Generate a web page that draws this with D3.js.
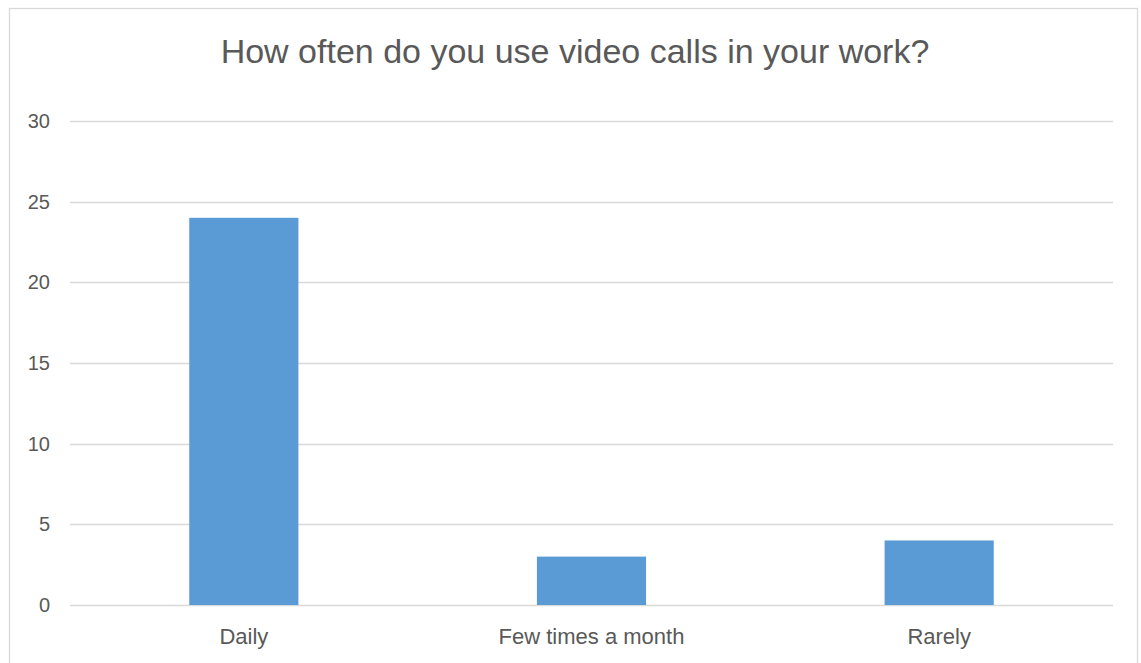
<!DOCTYPE html>
<html>
<head>
<meta charset="utf-8">
<script src="https://cdn.jsdelivr.net/npm/d3@7"></script>
<style>
  html, body { margin: 0; padding: 0; background: #fff; }
  svg { display: block; }
  text { font-family: "Liberation Sans", "DejaVu Sans", sans-serif; fill: #595959; }
</style>
</head>
<body>
<script>
// Survey answers: how often video calls are used at work
const categories = ["Daily", "Few times a month", "Rarely"];
const counts = [24, 3, 4];
const yTicks = [0, 5, 10, 15, 20, 25, 30];
const title = "How often do you use video calls in your work?";

const W = 1141, H = 663;
const plot = { left: 70, right: 1113, top: 121, bottom: 605 };

const svg = d3.select("body").append("svg")
  .attr("width", W).attr("height", H);

// chart area frame
svg.append("rect")
  .attr("x", 9.5).attr("y", 8.5)
  .attr("width", 1128).attr("height", 670)
  .attr("fill", "#fff").attr("stroke", "#d9d9d9").attr("stroke-width", 1.3);

const x = d3.scaleBand()
  .domain(categories)
  .range([plot.left, plot.right])
  .paddingInner(0.686)
  .paddingOuter(0.343);

const y = d3.scaleLinear()
  .domain([0, 30])
  .range([plot.bottom, plot.top]);

// horizontal gridlines
svg.append("g").selectAll("line")
  .data(yTicks)
  .join("line")
  .attr("x1", plot.left).attr("x2", plot.right)
  .attr("y1", d => Math.round(y(d)) + 0.5)
  .attr("y2", d => Math.round(y(d)) + 0.5)
  .attr("stroke", "#d9d9d9").attr("stroke-width", 1.3);

// y axis labels
const yAxis = d3.axisLeft(y).tickValues(yTicks).tickSize(0).tickPadding(0);
const gy = svg.append("g")
  .attr("transform", `translate(${plot.left - 20},0)`)
  .call(yAxis);
gy.select(".domain").remove();
gy.selectAll("text")
  .attr("font-size", 20)
  .attr("font-family", "Liberation Sans, sans-serif")
  .attr("fill", "#595959");

// bars
svg.append("g").selectAll("rect")
  .data(categories.map((c, i) => ({ c, v: counts[i] })))
  .join("rect")
  .attr("x", d => x(d.c))
  .attr("width", x.bandwidth())
  .attr("y", d => y(d.v))
  .attr("height", d => y(0) - y(d.v))
  .attr("fill", "#5b9bd5");

// category labels
const xAxis = d3.axisBottom(x).tickSize(0).tickPadding(0);
const gx = svg.append("g")
  .attr("transform", `translate(0,${plot.bottom + 23})`)
  .call(xAxis);
gx.select(".domain").remove();
gx.selectAll("text")
  .attr("font-size", 22)
  .attr("font-family", "Liberation Sans, sans-serif")
  .attr("fill", "#595959");

// title
svg.append("text")
  .attr("x", 575).attr("y", 63)
  .attr("text-anchor", "middle")
  .attr("font-size", 34)
  .attr("fill", "#595959")
  .text(title);
</script>
</body>
</html>
